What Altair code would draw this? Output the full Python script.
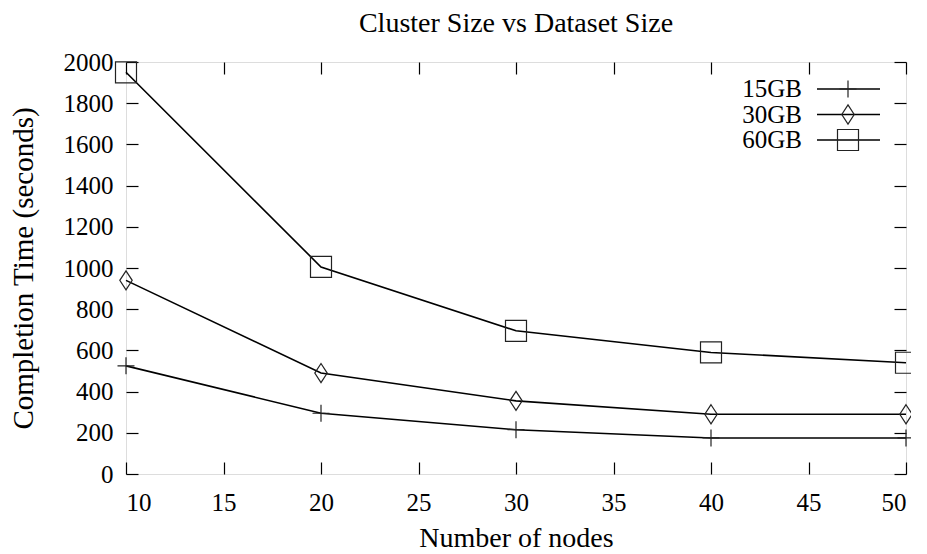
import altair as alt
import pandas as pd

nodes = [10, 20, 30, 40, 50]
series_names = ["15GB", "30GB", "60GB"]
time_15gb = [525, 295, 215, 175, 175]
time_30gb = [940, 490, 355, 290, 290]
time_60gb = [1950, 1005, 695, 590, 540]
x_ticks = [10, 15, 20, 25, 30, 35, 40, 45, 50]
y_ticks = [0, 200, 400, 600, 800, 1000, 1200, 1400, 1600, 1800, 2000]

rows = []
for name, vals in zip(series_names, [time_15gb, time_30gb, time_60gb]):
    for n, v in zip(nodes, vals):
        rows.append({"nodes": n, "time": v, "series": name})
df = pd.DataFrame(rows)
legend_df = pd.DataFrame({"series": series_names})

FONT = "Liberation Serif"
FS = 25
TFS = 28
shapes = [
    "M-1,0L1,0M0,-1L0,1",
    "M0,-1L0.65,0L0,1L-0.65,0Z",
    "M-1,-1L1,-1L1,1L-1,1Z",
]
sizes = [289, 441, 289]

xscale = alt.Scale(domain=[10, 50], nice=False, zero=False)
yscale = alt.Scale(domain=[0, 2000], nice=False)
shape_scale = alt.Scale(domain=series_names, range=shapes)
size_scale = alt.Scale(domain=series_names, range=sizes)

axis_common = dict(domain=False, grid=False, tickSize=12, offset=-12,
                   tickColor="black", tickWidth=1.2, format="d",
                   labelFont=FONT, labelFontSize=FS, labelColor="black",
                   titleFont=FONT, titleColor="black",
                   titleFontWeight="normal")

lines = alt.Chart(df).mark_line(color="black", strokeWidth=1.6).encode(
    x=alt.X("nodes:Q", scale=xscale,
            axis=alt.Axis(orient="bottom", values=x_ticks, title="Number of nodes",
                          labelPadding=16, titlePadding=9, titleFontSize=TFS, **axis_common)),
    y=alt.Y("time:Q", scale=yscale,
            axis=alt.Axis(orient="left", values=y_ticks, title="Completion Time (seconds)",
                          labelPadding=13, titlePadding=25, titleFontSize=29, **axis_common)),
    detail="series:N",
)

points = alt.Chart(df).mark_point(filled=False, color="#222222", strokeWidth=1.2, opacity=1).encode(
    x=alt.X("nodes:Q", scale=xscale,
            axis=alt.Axis(orient="top", values=x_ticks, labels=False, title=None, **axis_common)),
    y=alt.Y("time:Q", scale=yscale,
            axis=alt.Axis(orient="right", values=y_ticks, labels=False, title=None, **axis_common)),
    shape=alt.Shape("series:N", scale=shape_scale, legend=None),
    size=alt.Size("series:N", scale=size_scale, legend=None),
)

leg_y = alt.Y("series:N", scale=alt.Scale(type="point", domain=series_names, range=[27, 78], padding=0), axis=None)

leg_text = alt.Chart(legend_df).mark_text(align="right", baseline="middle", font=FONT,
                                          fontSize=FS, color="black").encode(
    x=alt.value(676), y=leg_y, text="series:N")
leg_rule = alt.Chart(legend_df).mark_rule(color="black", strokeWidth=1.6).encode(
    x=alt.value(691), x2=alt.value(754), y=leg_y)
leg_pts = alt.Chart(legend_df).mark_point(filled=False, color="#222222", strokeWidth=1.2, opacity=1).encode(
    x=alt.value(722), y=leg_y,
    shape=alt.Shape("series:N", scale=shape_scale, legend=None),
    size=alt.Size("series:N", scale=size_scale, legend=None),
)

chart = alt.layer(lines, points, leg_text, leg_rule, leg_pts).resolve_scale(
    y="independent"
).resolve_axis(x="independent", y="independent").properties(
    width=780, height=412,
    title=alt.Title("Cluster Size vs Dataset Size", font=FONT, fontSize=TFS,
                    fontWeight="normal", color="black", anchor="middle", offset=12),
    autosize=alt.AutoSizeParams(type="none"),
    padding={"left": 118, "top": 54, "right": 5, "bottom": 82},
).configure_view(stroke="black", strokeWidth=1.5).configure(background="white")

chart.save("out.html", embed_options={"renderer": "svg", "actions": False})
